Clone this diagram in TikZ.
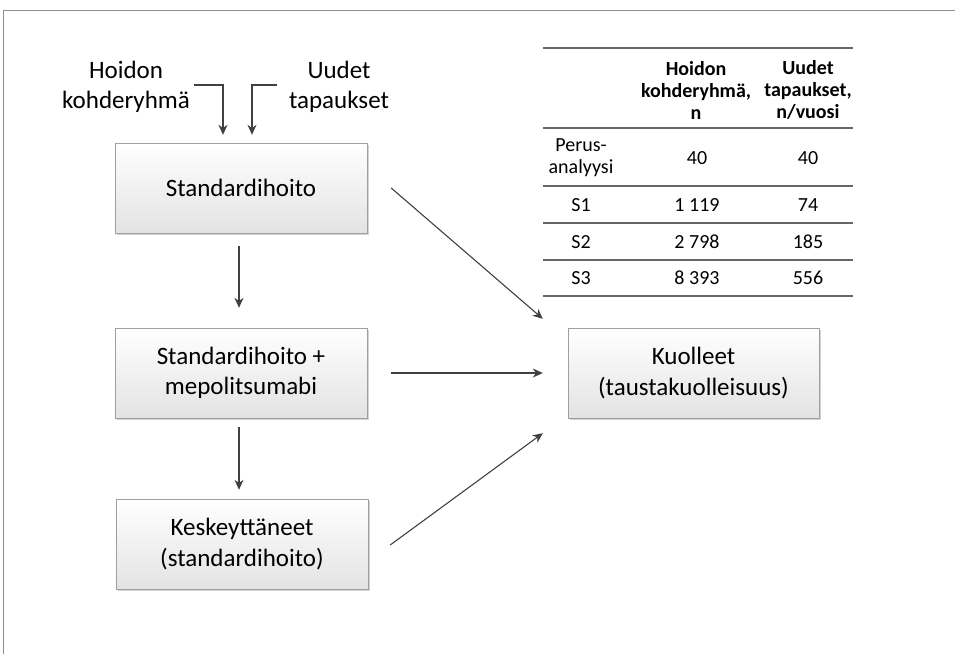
\documentclass[tikz,border=0pt]{standalone}
\usepackage{fontspec}
\setmainfont{Carlito}
\usepackage{tikz}
\usetikzlibrary{arrows.meta,shadows}
\newcommand{\boxfont}{\fontsize{25}{30.5}\selectfont}
\newcommand{\cellfont}{\fontsize{20}{22}\selectfont}

\begin{document}
\begin{tikzpicture}[x=1pt,y=-1pt,
box/.style={draw=gray!75,top color=white,bottom color=gray!22,drop shadow={shadow xshift=1.5pt,shadow yshift=-1.5pt,opacity=0.35},align=center,font=\boxfont,minimum width=252pt,minimum height=90pt,inner sep=0pt},
lbl/.style={align=center,font=\boxfont,inner sep=4pt},
cell/.style={align=center,font=\cellfont,inner sep=0pt},
head/.style={cell,font=\cellfont\bfseries},
conn/.style={draw=black!75,line width=1.1pt,-{Stealth[length=10pt,width=9pt]}},
rule/.style={draw=black!60,line width=1.3pt}]
\useasboundingbox (0,0) rectangle (955,654);
\draw[black!45,line width=1.5pt] (3.5,654) -- (3.5,10.5) -- (955,10.5);

\node[box] (std) at (241,188) {Standardihoito};
\node[box] (stdmepo) at (241,373) {Standardihoito +\\mepolitsumabi};
\node[box] (keskeyt) at (242,544) {Keskeyttäneet\\(standardihoito)};
\node[box,minimum width=251pt] (kuolleet) at (693.5,373) {Kuolleet\\(taustakuolleisuus)};

\node[lbl] (hoidon) at (126,87) {Hoidon\\kohderyhmä};
\node[lbl] (uudet) at (339,87) {Uudet\\tapaukset};

\draw[conn,shorten >=8pt] ([yshift=2pt]hoidon.east) -| ([xshift=-18pt]std.north);
\draw[conn,shorten >=8pt] ([xshift=-8pt,yshift=2pt]uudet.west) -| ([xshift=11pt]std.north);
\draw[conn,shorten <=13pt,shorten >=20pt] ([xshift=-2pt]std.south) -- ([xshift=-2pt]stdmepo.north);
\draw[conn,shorten <=9pt,shorten >=9pt] ([xshift=-2pt]stdmepo.south) -- ([xshift=-3pt]keskeyt.north);
\draw[conn,shorten <=24pt,shorten >=25pt] (stdmepo.east) -- (kuolleet.west);
\draw[conn] ([xshift=24pt]std.east) -- ([xshift=-25pt,yshift=9pt]kuolleet.north west);
\draw[conn] ([xshift=22pt,yshift=-1pt]keskeyt.east) -- ([xshift=-25pt,yshift=-15pt]kuolleet.south west);

% taulukko
\foreach \y in {48,128,186,223,260,296}
  \draw[rule] (543,\y) -- (853,\y);
\node[head] (hdhoidon) at (696,90) {Hoidon\\kohderyhmä,\\n};
\node[head] (hduudet) at (808,90) {Uudet\\tapaukset,\\n/vuosi};
\node[cell] (perus) at (581,158) {Perus-\\analyysi};
\node[cell] (perusn) at (697,158) {40};
\node[cell] (perusv) at (808,158) {40};
\foreach \i/\y/\a/\b in {1/205/1 119/74,2/242/2 798/185,3/278/8 393/556}{
  \node[cell] (s\i) at (581,\y) {S\i};
  \node[cell] (s\i n) at (697,\y) {\a};
  \node[cell] (s\i v) at (808,\y) {\b};
}
\end{tikzpicture}
\end{document}
